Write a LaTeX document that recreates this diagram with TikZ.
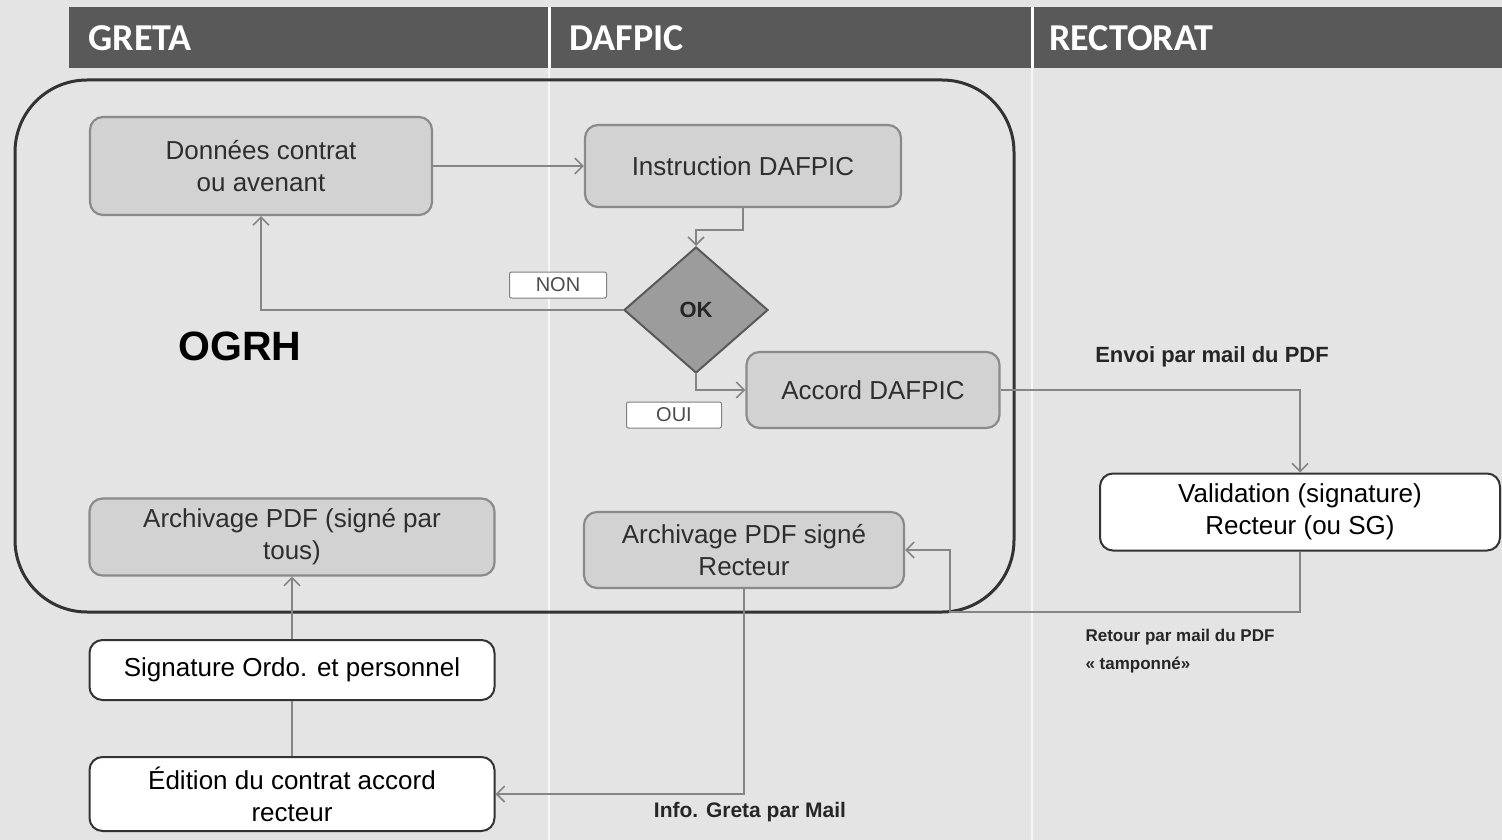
\documentclass[tikz,border=0pt]{standalone}
\usepackage{fontspec}
\setmainfont{Liberation Sans}
\newfontfamily\hdrfont{Carlito}
\usetikzlibrary{arrows.meta,shapes.geometric}
\definecolor{bgc}{HTML}{E4E4E4}
\definecolor{hdrc}{HTML}{595959}
\definecolor{gboxfill}{HTML}{D2D2D2}
\definecolor{gboxdraw}{HTML}{8A8A8A}
\definecolor{dmdfill}{HTML}{9C9C9C}
\definecolor{linec}{HTML}{858585}
\definecolor{txtc}{HTML}{2E2E2E}
\tikzset{
  boxtext/.style={font={\fontsize{26}{32}\selectfont}, align=center, text=txtc},
  graybox/.style={boxtext, rectangle, rounded corners=13pt, draw=gboxdraw, line width=2.2pt, fill=gboxfill, inner sep=0pt},
  whitebox/.style={boxtext, rectangle, rounded corners=13pt, draw=black!80, line width=2pt, fill=white, inner sep=0pt, text=black},
  tag/.style={rectangle, rounded corners=2pt, draw=gray, line width=1pt, fill=white, font={\fontsize{20}{24}\selectfont}, text=black!70, inner sep=0pt},
  conn/.style={draw=linec, line width=2pt, -{Straight Barb[length=8pt,width=16pt,line width=1.6pt]}},
  plainconn/.style={draw=linec, line width=2pt},
  lbl/.style={font={\bfseries\fontsize{21}{25}\selectfont}, text=black!85},
  hdr/.style={font={\hdrfont\bfseries\fontsize{38}{40}\selectfont}, text=white, anchor=west}
}
\begin{document}
\begin{tikzpicture}[x=1pt,y=-1pt]
\useasboundingbox (0,0) rectangle (1502,840);
\fill[bgc] (0,0) rectangle (1502,840);
% column separators
\draw[white!70!bgc, line width=2pt] (549,68) -- (549,840);
\draw[white!70!bgc, line width=2pt] (1032,68) -- (1032,840);
% header
\fill[hdrc] (69,7) rectangle (1502,68);
\draw[white, line width=3pt] (549,7) -- (549,68);
\draw[white, line width=3pt] (1032,7) -- (1032,68);
\node[hdr] (hgreta) at (85,38) {GRETA};
\node[hdr] (hdafpic) at (566,38) {DAFPIC};
\node[hdr] (hrect) at (1046,38) {RECTORAT};
% OGRH big box
\node[draw=black!80, line width=3pt, rounded corners=72pt, minimum width=999pt, minimum height=532pt, inner sep=0pt] (ogrhbox) at (514.5,346) {};
\node[font={\bfseries\fontsize{41}{45}\selectfont}, text=black] (ogrh) at (240,346) {OGRH};
% boxes
\node[graybox, minimum width=342pt, minimum height=98pt] (don) at (261,166) {Données contrat\\ou avenant};
\node[graybox, minimum width=316pt, minimum height=82pt] (ins) at (743,166) {Instruction DAFPIC};
\node[diamond, draw=black!65, line width=2pt, fill=dmdfill, minimum width=144pt, minimum height=126pt, inner sep=0pt, font={\bfseries\fontsize{22}{24}\selectfont}, text=black!85] (ok) at (696,310) {OK};
\node[graybox, minimum width=253pt, minimum height=76pt] (acc) at (873,390) {Accord DAFPIC};
\node[tag, minimum width=97pt, minimum height=26pt] (non) at (558,285) {NON};
\node[tag, minimum width=95pt, minimum height=26pt] (oui) at (674,415) {OUI};
\node[graybox, minimum width=405pt, minimum height=77pt] (archG) at (292,537) {Archivage PDF (signé par\\tous)};
\node[graybox, minimum width=320pt, minimum height=76pt] (archR) at (744,550) {Archivage PDF signé\\Recteur};
\node[whitebox, minimum width=400pt, minimum height=77pt] (val) at (1300,512) {Validation (signature)\\Recteur (ou SG)};
\node[whitebox, minimum width=405pt, minimum height=60pt] (sig) at (292,670) {Signature Ordo. et personnel};
\node[whitebox, minimum width=405pt, minimum height=74pt] (edi) at (292,794) {Édition du contrat accord\\recteur};
% labels
\node[lbl, font={\bfseries\fontsize{22}{26}\selectfont}] (lenvoi) at (1212,357) {Envoi par mail du PDF};
\node[lbl, font={\bfseries\fontsize{17}{28}\selectfont}, align=left, anchor=north west] (lretour) at (1082,626) {Retour par mail du PDF\\« tamponné»};
\node[lbl] (linfo) at (750,812) {Info. Greta par Mail};
% connectors
\coordinate (c1) at (743,230);
\coordinate (r1) at (950,612);
\draw[conn] (don.east) -- (ins.west);
\draw[conn] (ins.south) -- (c1) -| (ok.north);
\draw[conn] (ok.west) -| (don.south);
\draw[conn] (ok.south) |- (acc.west);
\draw[conn] (acc.east) -| (val.north);
\draw[conn] (val.south) |- (r1) |- (archR.east);
\draw[conn] (archR.south) |- (edi.east);
\draw[plainconn] (edi.north) -- (sig.south);
\draw[conn] (sig.north) -- (archG.south);
\end{tikzpicture}
\end{document}
